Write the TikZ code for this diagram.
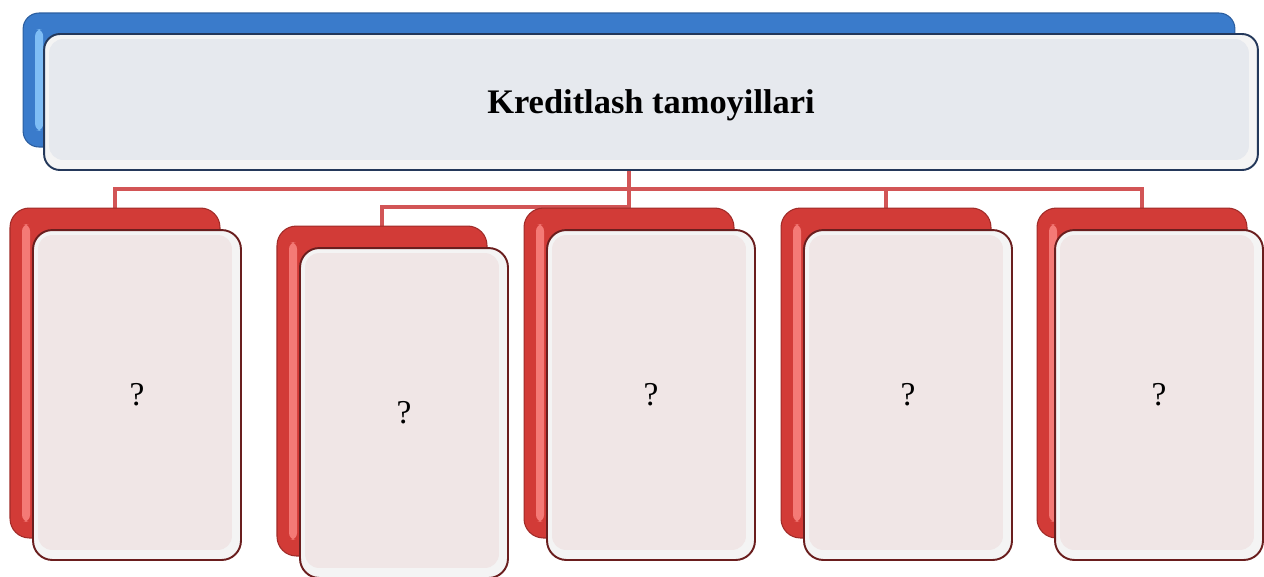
\documentclass[tikz,border=0pt]{standalone}
\usepackage{fontspec}
\setmainfont{Liberation Serif}
\usepackage{xcolor}
\usepackage{tikz}
\usetikzlibrary{calc,backgrounds}
\definecolor{tileblue}{HTML}{3A7BCB}
\definecolor{tileblueedge}{HTML}{2B5E9F}
\definecolor{tilebluehi}{HTML}{7FBDF5}
\definecolor{paneblue}{HTML}{E6E9EE}
\definecolor{paneblueedge}{HTML}{24385A}
\definecolor{tilered}{HTML}{D23B37}
\definecolor{tilerededge}{HTML}{A02B28}
\definecolor{tileredhi}{HTML}{F47A76}
\definecolor{panered}{HTML}{F0E6E6}
\definecolor{paneredge}{HTML}{6A1E1E}
\definecolor{panerim}{HTML}{F4F4F4}
\definecolor{linkred}{HTML}{D25556}

\begin{document}
\begin{tikzpicture}[x=0.02cm, y=-0.02cm,
  tile/.style={draw=#1edge, fill=#1, line width=0.6pt, inner sep=0pt,
    path picture={\fill[#1hi, rounded corners=4pt]
      ($(path picture bounding box.north west)+(12,16)$) rectangle
      ($(path picture bounding box.south west)+(20,-16)$);}},
  pane/.style={draw=#1, fill=panerim, line width=1.1pt, inner sep=0pt},
  glass/.style={path picture={\fill[#1, rounded corners=8pt]
      ($(path picture bounding box.north west)+(5,5)$) rectangle
      ($(path picture bounding box.south east)+(-9,-10)$);}},
  headtile/.style={tile=tileblue, rounded corners=9pt,
    minimum width=24.24cm, minimum height=2.68cm},
  headpane/.style={pane=paneblueedge, glass=paneblue, rounded corners=9pt,
    minimum width=24.28cm, minimum height=2.72cm, text depth=0pt,
    font=\bfseries\fontsize{19.6}{24}\selectfont},
  subtile/.style={tile=tilered, rounded corners=11pt,
    minimum width=4.2cm, minimum height=6.6cm},
  subpane/.style={pane=paneredge, glass=panered, rounded corners=11pt,
    minimum width=4.16cm, minimum height=6.6cm,
    font=\fontsize{19}{23}\selectfont},
  link/.style={draw=linkred, line width=2.8pt}
]
\useasboundingbox (0,0) rectangle (1264,576);

% heading
\node[headtile] (titleback) at (629,80) {};
\node[headpane] (title) at (651,102) {Kreditlash tamoyillari};

% five principle cards
\foreach \n/\x/\y/\fx in {1/115/373/137, 2/382/391/404, 3/629/373/651,
    4/886/373/908, 5/1142/373/1159} {
  \node[subtile] (b\n back) at (\x,\y) {};
  \node[subpane] (b\n) at (\fx,\y+22) {?};
}

\coordinate (trunk) at (629,189);
\coordinate (branch) at (629,207);

\begin{scope}[on background layer]
  \draw[link] (titleback.south) -- (b3back.north);
  \draw[link] (b1back.north) |- (b5back.north |- trunk) -- (b5back.north);
  \draw[link] (b4back.north) -- (b4back.north |- trunk);
  \draw[link] (b2back.north) |- (b3back.north |- branch);
\end{scope}
\end{tikzpicture}
\end{document}
